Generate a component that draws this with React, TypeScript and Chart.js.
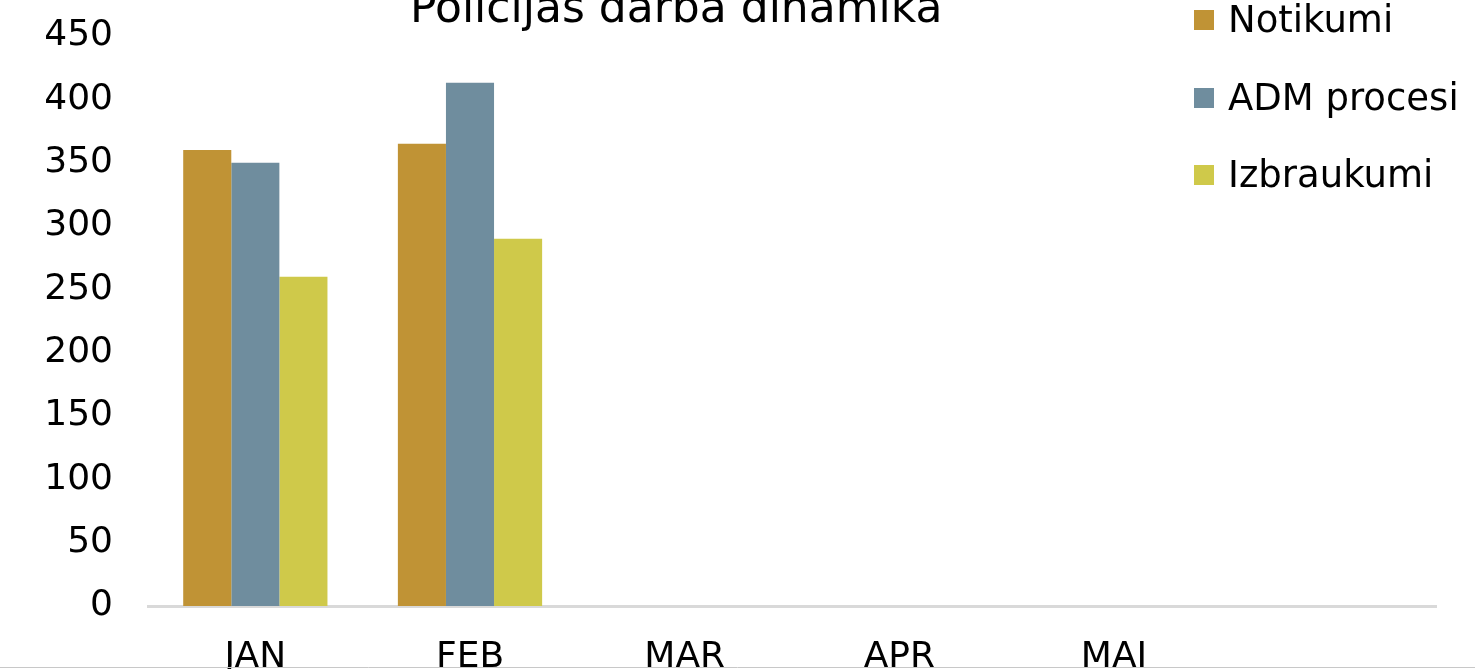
import React, { useEffect, useRef } from "react";
import { Chart, registerables } from "chart.js";

Chart.register(...registerables);

const TITLE = "Policijas darba dinamika";
const MONTHS = ["JAN", "FEB", "MAR", "APR", "MAI", ""];
const NOTIKUMI = [360, 365, null, null, null, null];
const ADM_PROCESI = [350, 413, null, null, null, null];
const IZBRAUKUMI = [260, 290, null, null, null, null];
const SERIES_NAMES = ["Notikumi", "ADM procesi", "Izbraukumi"];
const SERIES_COLORS = ["#C09335", "#6F8D9E", "#CFC94A"];
const Y_MIN = 0;
const Y_MAX = 450;
const Y_STEP = 50;

const FONT = "'DejaVu Sans', sans-serif";

const overlayPlugin = {
  id: "overlay",
  afterDraw(chart: any) {
    const ctx = chart.ctx as CanvasRenderingContext2D;
    ctx.save();
    // title
    ctx.fillStyle = "#000";
    ctx.font = `44px ${FONT}`;
    ctx.textAlign = "left";
    ctx.textBaseline = "alphabetic";
    ctx.fillText(TITLE, 410, 22);
    // legend
    ctx.font = `37px ${FONT}`;
    chart.data.datasets.forEach((ds: any, i: number) => {
      const base = 32 + i * 77.5;
      ctx.fillStyle = ds.backgroundColor;
      ctx.fillRect(1194, Math.round(base - 22), 20, 20);
      ctx.fillStyle = "#000";
      ctx.fillText(ds.label, 1228, base);
    });
    // bottom frame line
    ctx.strokeStyle = "#c8c8c8";
    ctx.lineWidth = 1;
    ctx.beginPath();
    ctx.moveTo(0, chart.height - 1.5);
    ctx.lineTo(chart.width, chart.height - 1.5);
    ctx.stroke();
    ctx.restore();
  },
};

export default function App() {
  const ref = useRef<HTMLCanvasElement | null>(null);
  useEffect(() => {
    if (!ref.current) return;
    const seriesData = [NOTIKUMI, ADM_PROCESI, IZBRAUKUMI];
    const chart = new Chart(ref.current, {
      type: "bar",
      data: {
        labels: MONTHS,
        datasets: seriesData.map((d, i) => ({
          label: SERIES_NAMES[i],
          data: d,
          backgroundColor: SERIES_COLORS[i],
          borderWidth: 0,
          categoryPercentage: 0.672,
          barPercentage: 1.0,
        })),
      },
      options: {
        responsive: false,
        animation: false,
        devicePixelRatio: 1,
        layout: { padding: { top: 36, right: 39, left: 0, bottom: 0 } },
        plugins: {
          legend: { display: false },
          title: { display: false },
          tooltip: { enabled: false },
        },
        scales: {
          x: {
            grid: { display: false, drawTicks: false },
            border: { display: true, color: "#d9d9d9", width: 3 },
            ticks: {
              color: "#000",
              font: { family: FONT, size: 36 },
              padding: 30,
              maxRotation: 0,
              autoSkip: false,
            },
            afterFit: (s: any) => {
              s.height = 63;
              s.paddingLeft = 0;
              s.paddingRight = 0;
            },
          },
          y: {
            min: Y_MIN,
            max: Y_MAX,
            grid: { display: false, drawTicks: false },
            border: { display: false },
            ticks: {
              stepSize: Y_STEP,
              color: "#000",
              font: { family: FONT, size: 36 },
              padding: 35,
            },
            afterFit: (s: any) => {
              s.width = 148;
              s.paddingTop = 0;
              s.paddingBottom = 0;
            },
          },
        },
      },
      plugins: [overlayPlugin],
    } as any);
    return () => chart.destroy();
  }, []);
  return (
    <div style={{ position: "fixed", left: 0, top: 0, width: 1475, height: 669, background: "#fff" }}>
      <canvas ref={ref} width={1475} height={669} style={{ display: "block" }} />
    </div>
  );
}
